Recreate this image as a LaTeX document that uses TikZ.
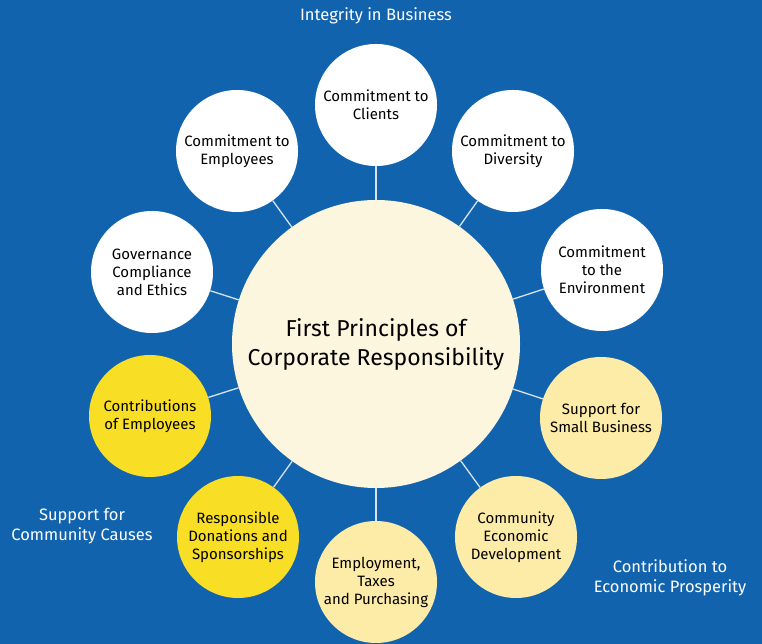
\documentclass[tikz,border=0pt]{standalone}
\usepackage{fontspec}
\setmainfont{Fira Sans}
\usepackage{tikz}

\definecolor{bgblue}{HTML}{1263AE}
\definecolor{cream}{HTML}{FDF6DF}
\definecolor{paleyellow}{HTML}{FDEBA8}
\definecolor{brightyellow}{HTML}{F8DE24}
\definecolor{spoke}{HTML}{D5E2F0}

\begin{document}
\begin{tikzpicture}
    [x=1pt,y=1pt,
      principle/.style={circle,draw=none,fill=white,minimum size=122pt,inner sep=0pt,
        align=center,font=\fontsize{15}{18}\selectfont},
      hub/.style={circle,draw=none,fill=cream,minimum size=288pt,inner sep=0pt,
        align=center,font=\fontsize{23}{29}\selectfont},
      group/.style={align=center,text=white,font=\fontsize{16.5}{20}\selectfont}]
      \fill[bgblue] (0,0) rectangle (762,644);
      \useasboundingbox (0,0) rectangle (762,644);

      \node[hub] (centre) at (376,300) {First Principles of\\Corporate Responsibility};

      % integrity in business
      \node[principle] (clients) at (376,539) {Commitment to\\Clients};
      \node[principle] (diversity) at (513,493) {Commitment to\\Diversity};
      \node[principle] (environment) at (602,374) {Commitment\\to the\\Environment};
      \node[principle] (employees) at (237,493) {Commitment to\\Employees};
      \node[principle] (governance) at (152,372) {Governance\\Compliance\\and Ethics};

      % economic prosperity
      \node[principle,fill=paleyellow] (smallbiz) at (601,226) {Support for\\Small Business};
      \node[principle,fill=paleyellow] (community) at (516,107) {Community\\Economic\\Development};
      \node[principle,fill=paleyellow] (taxes) at (376,62) {Employment,\\Taxes\\and Purchasing};

      % community causes
      \node[principle,fill=brightyellow] (contrib) at (150,228) {Contributions\\of Employees};
      \node[principle,fill=brightyellow] (donations) at (238,107) {Responsible\\Donations and\\Sponsorships};

      \node[group] (integrity) at (376,628) {Integrity in Business};
      \node[group] (causes) at (82,118) {Support for\\Community Causes};
      \node[group] (prosperity) at (670,66) {Contribution to\\Economic Prosperity};

      \foreach \to in {clients,diversity,environment,smallbiz,community,
	  taxes,donations,contrib,governance,employees}
	\draw[spoke,line width=1.3pt] (centre) -- (\to);

    \end{tikzpicture}
\end{document}
